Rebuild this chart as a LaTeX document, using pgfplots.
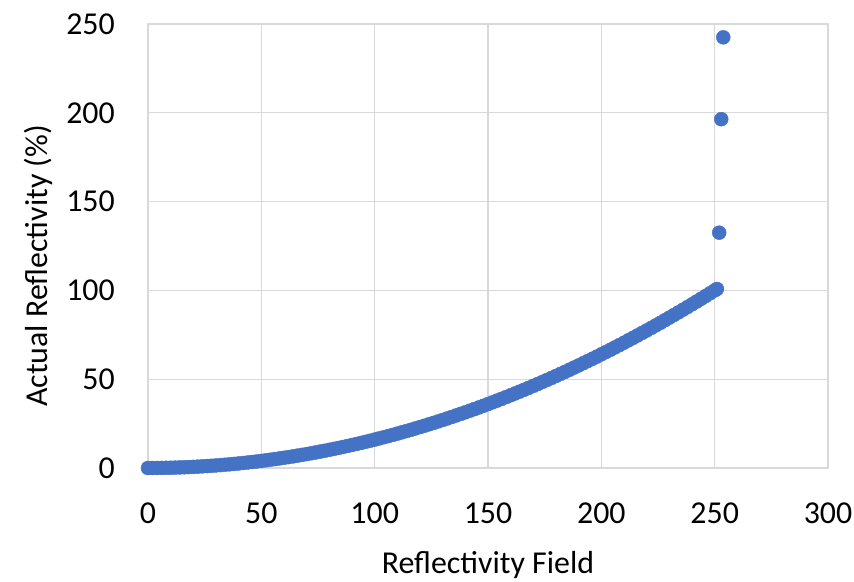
\documentclass[border=0pt]{standalone}
\usepackage{pgfplots}
\pgfplotsset{compat=1.18}
\usepackage{fontspec}
\setmainfont{Carlito}
\definecolor{ptblue}{HTML}{4472C4}
\definecolor{gridgray}{HTML}{D9D9D9}
\begin{document}
\begin{tikzpicture}
\begin{axis}[
  scale only axis,
  width=680bp, height=444bp,
  xmin=0, xmax=300, ymin=0, ymax=250,
  xtick={0,50,...,300}, ytick={0,50,...,250},
  grid=major,
  major grid style={draw=gridgray, line width=1.1bp},
  axis line style={draw=gridgray, line width=1.1bp},
  major tick length=0pt,
  font=\fontsize{32}{38}\selectfont,
  /pgf/number format/assume math mode=true,
  yticklabel style={anchor=east, inner sep=0pt, xshift=-33bp},
  xticklabel style={anchor=north, inner sep=0pt, yshift=-35bp},
  xlabel={Reflectivity Field},
  ylabel={Actual Reflectivity (\%)},
  xlabel style={at={(axis description cs:0.5,-0.2365)}, anchor=base, inner sep=0pt},
  ylabel style={at={(axis description cs:-0.1485,0.455)}, anchor=base, inner sep=0pt},
  clip=false,
]
\addplot[only marks, mark=*, mark size=7bp, draw=ptblue, fill=ptblue, color=ptblue] coordinates {
(0,0) (2,0.0064) (4,0.0256) (6,0.0576) (8,0.1024) (10,0.16) (12,0.2304) (14,0.3136) (16,0.4096) (18,0.5184)
(20,0.64) (22,0.7744) (24,0.9216) (26,1.0816) (28,1.2544) (30,1.44) (32,1.6384) (34,1.8496) (36,2.0736) (38,2.3104)
(40,2.56) (42,2.8224) (44,3.0976) (46,3.3856) (48,3.6864) (50,4) (52,4.3264) (54,4.6656) (56,5.0176) (58,5.3824)
(60,5.76) (62,6.1504) (64,6.5536) (66,6.9696) (68,7.3984) (70,7.84) (72,8.2944) (74,8.7616) (76,9.2416) (78,9.7344)
(80,10.24) (82,10.7584) (84,11.2896) (86,11.8336) (88,12.3904) (90,12.96) (92,13.5424) (94,14.1376) (96,14.7456) (98,15.3664)
(100,16) (102,16.6464) (104,17.3056) (106,17.9776) (108,18.6624) (110,19.36) (112,20.0704) (114,20.7936) (116,21.5296) (118,22.2784)
(120,23.04) (122,23.8144) (124,24.6016) (126,25.4016) (128,26.2144) (130,27.04) (132,27.8784) (134,28.7296) (136,29.5936) (138,30.4704)
(140,31.36) (142,32.2624) (144,33.1776) (146,34.1056) (148,35.0464) (150,36) (152,36.9664) (154,37.9456) (156,38.9376) (158,39.9424)
(160,40.96) (162,41.9904) (164,43.0336) (166,44.0896) (168,45.1584) (170,46.24) (172,47.3344) (174,48.4416) (176,49.5616) (178,50.6944)
(180,51.84) (182,52.9984) (184,54.1696) (186,55.3536) (188,56.5504) (190,57.76) (192,58.9824) (194,60.2176) (196,61.4656) (198,62.7264)
(200,64) (202,65.2864) (204,66.5856) (206,67.8976) (208,69.2224) (210,70.56) (212,71.9104) (214,73.2736) (216,74.6496) (218,76.0384)
(220,77.44) (222,78.8544) (224,80.2816) (226,81.7216) (228,83.1744) (230,84.64) (232,86.1184) (234,87.6096) (236,89.1136) (238,90.6304)
(240,92.16) (242,93.7024) (244,95.2576) (246,96.8256) (248,98.4064) (250,100) (251,100.8)
(252,132.5) (252.9,196.4) (253.8,242.5)
};
\end{axis}
\path (current axis.south west) ++(-148bp,-114bp);
\path (current axis.north east) ++(26bp,24bp);
\end{tikzpicture}
\end{document}
